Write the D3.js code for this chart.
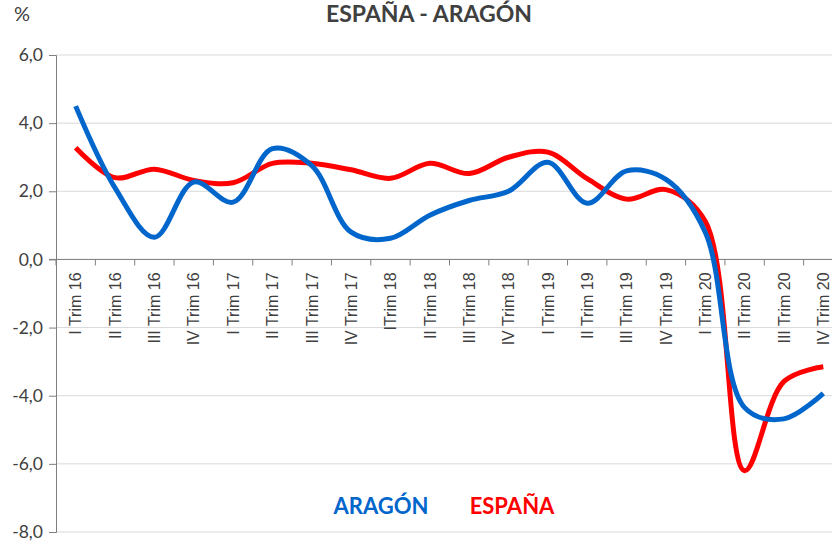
<!DOCTYPE html>
<html>
<head>
<meta charset="utf-8">
<script src="https://cdn.jsdelivr.net/npm/d3@7"></script>
<style>
  body { margin: 0; background: #fff; }
  svg { display: block; }
</style>
</head>
<body>
<svg width="832" height="544"></svg>
<script>
// trimestres (etiquetas tal cual en el original)
const categories = ['I Trim 16','II Trim 16','III Trim 16','IV Trim 16',
  'I Trim 17','II Trim 17','III Trim 17','IV Trim 17',
  'ITrim 18','II Trim 18','III Trim 18','IV Trim 18',
  'I Trim 19','II Trim 19','III Trim 19','IV Trim 19',
  'I Trim 20','II Trim 20','III Trim 20','IV Trim 20'];

const aragon = [4.5, 2.1, 0.65, 2.27, 1.68, 3.25, 2.75, 0.8, 0.62, 1.3,
  1.73, 2.0, 2.85, 1.65, 2.6, 2.35, 0.8, -4.35, -4.68, -3.93];
const espana = [3.28, 2.4, 2.65, 2.32, 2.25, 2.82, 2.82, 2.63, 2.38, 2.82,
  2.52, 3.0, 3.15, 2.37, 1.77, 2.05, 1.12, -6.2, -3.58, -3.15];

const yTicks = [6, 4, 2, 0, -2, -4, -6, -8];

const svg = d3.select('svg');
const mLeft = 56, mRight = 843, mTop = 55, mBottom = 532;

const x = d3.scaleBand().domain(categories).range([mLeft, mRight]);
const y = d3.scaleLinear().domain([-8, 6]).range([mBottom, mTop]);
const cx = d => x(d) + x.bandwidth() / 2;

// gridlines
svg.append('g')
  .selectAll('line')
  .data(yTicks)
  .enter().append('line')
    .attr('x1', mLeft).attr('x2', 832)
    .attr('y1', d => y(d)).attr('y2', d => y(d))
    .attr('stroke', '#d9d9d9').attr('stroke-width', 1);

// y axis
const yAxis = svg.append('g')
  .attr('transform', 'translate(' + mLeft + ',0)')
  .call(d3.axisLeft(y).tickValues(yTicks).tickSize(7).tickPadding(6)
    .tickFormat(d => d3.format('.1f')(d).replace('.', ',').replace('−', '-')));
yAxis.select('.domain').attr('stroke', '#7f7f7f');
yAxis.selectAll('.tick line').attr('stroke', '#7f7f7f');
yAxis.selectAll('text')
  .attr('fill', '#404040')
  .style('font-family', 'Lato')
  .style('font-size', '17.5px');

// x axis at zero
const xAxis = svg.append('g')
  .attr('transform', 'translate(0,' + y(0) + ')');
xAxis.append('line')
  .attr('x1', mLeft - 7).attr('x2', 832)
  .attr('y1', 0).attr('y2', 0)
  .attr('stroke', '#7f7f7f');
xAxis.selectAll('.xt')
  .data(categories)
  .enter().append('line')
    .attr('class', 'xt')
    .attr('x1', d => x(d)).attr('x2', d => x(d))
    .attr('y1', 0).attr('y2', 6)
    .attr('stroke', '#7f7f7f');
xAxis.selectAll('text')
  .data(categories)
  .enter().append('text')
    .attr('transform', d => 'translate(' + cx(d) + ',13) rotate(-90)')
    .attr('text-anchor', 'end')
    .attr('dy', '0.36em')
    .attr('fill', '#404040')
    .style('font-family', 'Liberation Sans')
    .style('font-size', '16px')
    .text(d => d);

// lines (suavizado tipo Excel)
const line = d3.line()
  .x((d, i) => cx(categories[i]))
  .y(d => y(d))
  .curve(d3.curveCatmullRom.alpha(0.5));

svg.append('path')
  .datum(espana)
  .attr('d', line)
  .attr('fill', 'none')
  .attr('stroke', '#ff0000')
  .attr('stroke-width', 5)
  .attr('stroke-linejoin', 'round');

svg.append('path')
  .datum(aragon)
  .attr('d', line)
  .attr('fill', 'none')
  .attr('stroke', '#0066cc')
  .attr('stroke-width', 5)
  .attr('stroke-linejoin', 'round');

// title and unit
svg.append('text')
  .attr('x', 429).attr('y', 22)
  .attr('text-anchor', 'middle')
  .attr('fill', '#404040')
  .style('font-family', 'Lato')
  .style('font-weight', 'bold')
  .style('font-size', '23px')
  .text('ESPAÑA - ARAGÓN');

svg.append('text')
  .attr('x', 14).attr('y', 21)
  .attr('fill', '#404040')
  .style('font-family', 'Lato')
  .style('font-size', '20px')
  .text('%');

// legend
svg.append('text')
  .attr('x', 381).attr('y', 514)
  .attr('text-anchor', 'middle')
  .attr('fill', '#0066cc')
  .style('font-family', 'Lato')
  .style('font-weight', 'bold')
  .style('font-size', '22px')
  .text('ARAGÓN');

svg.append('text')
  .attr('x', 512).attr('y', 514)
  .attr('text-anchor', 'middle')
  .attr('fill', '#ff0000')
  .style('font-family', 'Lato')
  .style('font-weight', 'bold')
  .style('font-size', '22px')
  .text('ESPAÑA');
</script>
</body>
</html>
